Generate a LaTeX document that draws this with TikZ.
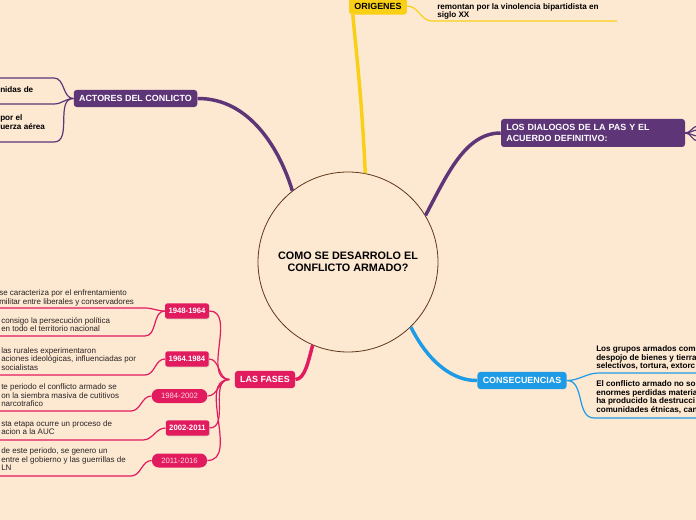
\documentclass[tikz,border=0pt]{standalone}
\usepackage{fontspec}
\setmainfont{Liberation Sans}
\usetikzlibrary{positioning, shadows}

\definecolor{paper}{RGB}{253,232,210}
\definecolor{purp}{RGB}{94,53,119}
\definecolor{gold}{RGB}{250,208,22}
\definecolor{rose}{RGB}{226,27,94}
\definecolor{sky}{RGB}{30,155,230}
\definecolor{rim}{RGB}{95,55,25}
\definecolor{ink}{RGB}{40,35,35}
\definecolor{blush}{RGB}{255,212,225}

\begin{document}
\begin{tikzpicture}[x=0.75pt, y=-0.75pt,
  hub/.style={circle, draw=rim, fill=paper, line width=0.6pt, minimum size=135pt, inner sep=0pt, align=center, font=\fontsize{8.1}{9}\selectfont\bfseries},
  topic/.style={fill=#1, text=white, rounded corners=2.2pt, inner xsep=4pt, inner ysep=0pt, minimum height=12.8pt, font=\fontsize{6.7}{8.2}\selectfont\bfseries},
  year/.style={fill=rose, text=white, rounded corners=1.8pt, inner xsep=2.6pt, inner ysep=0pt, minimum height=11.5pt, font=\fontsize{5.8}{7}\selectfont\bfseries, drop shadow={opacity=0.25, shadow xshift=0.6pt, shadow yshift=-0.6pt}},
  pill/.style={fill=rose, text=blush, rounded corners=5pt, inner xsep=7pt, inner ysep=0pt, minimum height=10.5pt, font=\fontsize{5.8}{7}\selectfont},
  note/.style={anchor=north west, inner sep=0pt, align=left, text=ink, font=\fontsize{6}{6.4}\selectfont},
  bnote/.style={note, text=black, font=\fontsize{6.1}{6.5}\selectfont\bfseries},
  trunk/.style={draw=#1, line width=2.6pt},
  twig/.style={draw=#1, line width=0.9pt}]
  \useasboundingbox (0,0) rectangle (696,520);
  \clip (0,0) rectangle (696,520);
  \fill[paper] (0,0) rectangle (696,520);

  \node[hub] (hub) at (348,262) {COMO SE DESARROLO EL\\ CONFLICTO ARMADO?};
  \node[topic=gold, text=black] (orig) at (378,6) {ORIGENES};
  \node[topic=purp] (actores) at (135.5,98.5) {ACTORES DEL CONLICTO};
  \node[topic=purp, text width=130pt, align=left, minimum height=21pt] (dialogos) at (593,133) {LOS DIALOGOS DE LA PAS Y EL\\ACUERDO DEFINITIVO:};
  \node[topic=rose] (fases) at (265,379.5) {LAS FASES};
  \node[topic=sky] (consec) at (522,380.5) {CONSECUENCIAS};

  \node[year] (f1) at (187,311) {1948-1964};
  \node[year] (f2) at (187,359) {1964.1984};
  \node[pill] (f3) at (179.5,396) {1984-2002};
  \node[year] (f4) at (187.5,428) {2002-2011};
  \node[pill] (f5) at (179.5,460.5) {2011-2016};

  \draw[trunk=gold] (hub.79) .. controls (362,100) and (356,50) .. ([xshift=3pt]orig.south west);
  \draw[trunk=purp] (hub.128) .. controls (280,150) and (250,98) .. (actores.east);
  \draw[trunk=purp] (hub.31) .. controls (447,175) and (465,133) .. (dialogos.west);
  \draw[trunk=rose] (hub.247) .. controls (308,362) and (305,379) .. (fases.east);
  \draw[trunk=sky] (hub.-46) .. controls (430,365) and (455,381) .. (consec.west);

  \coordinate (oend) at (617,21);
  \draw[twig=gold] (orig.east) to[out=0,in=180] (432,21) -- (oend);
  \node[bnote] (o1) at (437,3) {remontan por la vinolencia bipartidista en\\siglo XX};

  \foreach \y in {78,104,142}
    \draw[twig=purp] (actores.west) to[out=180,in=0] (54,\y) -- ++(-60,0);
  \node[bnote] (a1) at (0,86.5) {nidas de};
  \node[bnote] (a2) at (0,114.5) {por el\\uerza aérea};

  \foreach \y in {126,130,136,141}
    \draw[twig=purp] (dialogos.east) to[out=0,in=180] (698,\y);

  \foreach \f in {f1,f2,f3,f4,f5}
    \draw[twig=rose] ([xshift=-4pt]fases.west) to[out=180,in=0] (\f.east);
  \foreach \f/\x/\y in {f1/145/308, f1/145/336, f2/145/375, f3/131/411, f4/143/440, f5/131/476}
    \draw[twig=rose] (\f.west) to[out=180,in=0] (\x,\y) -- ++(-160,0);
  \node[note] (t1) at (-1,289.5) {se caracteriza por el enfrentamiento\\militar entre liberales y conservadores};
  \node[note] (t2) at (1,317) {consigo la persecución política\\en todo el territorio nacional};
  \node[note] (t3) at (1,347) {las rurales experimentaron\\aciones ideológicas, influenciadas por\\socialistas};
  \node[note] (t4) at (1,383.5) {te periodo el conflicto armado se\\on la siembra masiva de cutitivos\\narcotrafico};
  \node[note] (t5) at (1,420) {sta etapa ocurre un proceso de\\acion a la AUC};
  \node[note] (t6) at (1,447.5) {de este periodo, se genero un\\entre el gobierno y las guerrillas de\\LN};

  \draw[twig=sky] (consec.east) to[out=0,in=180] (599,373) -- ++(110,0);
  \draw[twig=sky] (consec.east) to[out=0,in=180] (594,418) -- ++(110,0);
  \node[bnote] (c1) at (596,345.5) {Los grupos armados come\\despojo de bienes y tierra\\selectivos, tortura, extorc};
  \node[bnote] (c2) at (596,380.5) {El conflicto armado no sol\\enormes perdidas materia\\ha producido la destrucci\\comunidades étnicas, can};
\end{tikzpicture}
\end{document}
